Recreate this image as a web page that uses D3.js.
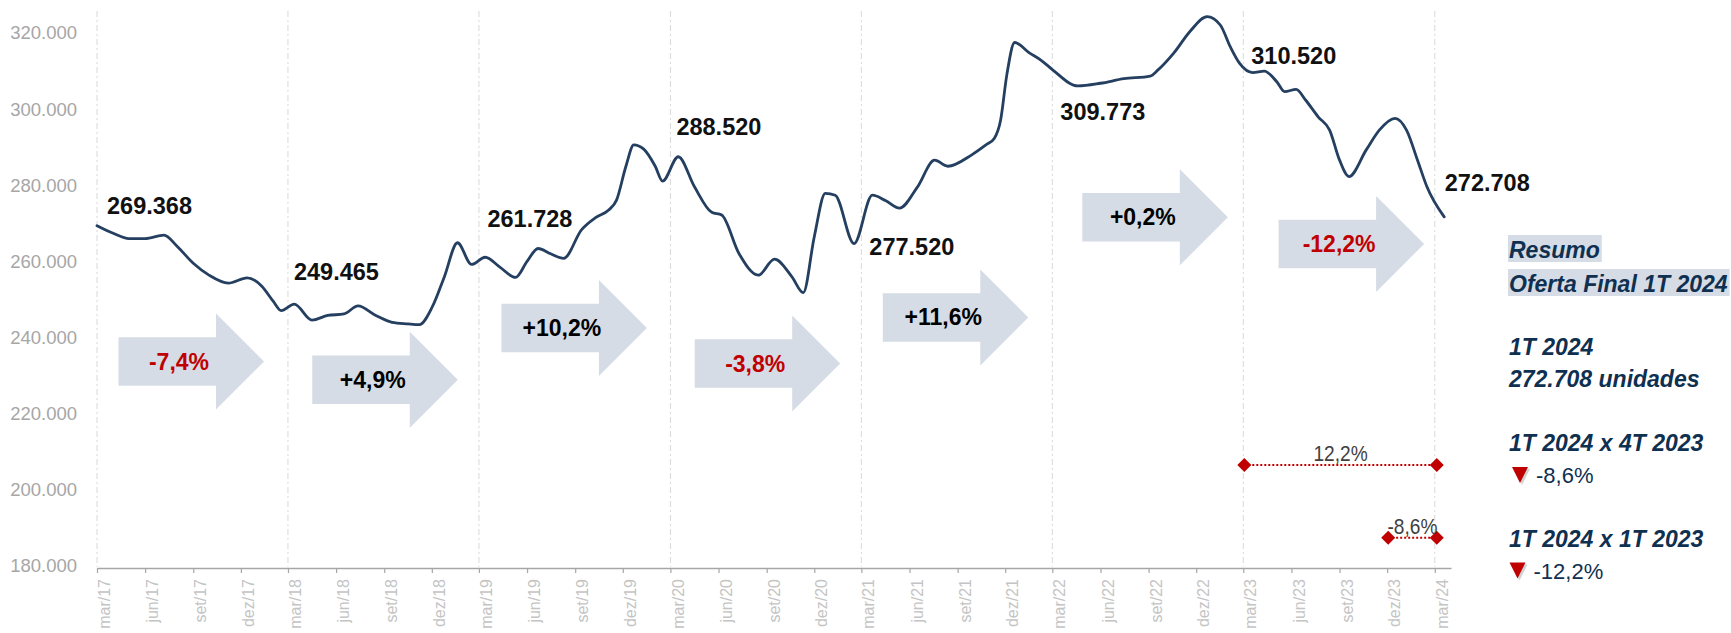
<!DOCTYPE html>
<html><head><meta charset="utf-8">
<script src="https://cdn.jsdelivr.net/npm/d3@7"></script>
<style>
html,body{margin:0;padding:0;background:#fff;}
svg{display:block;font-family:"Liberation Sans",Arial,sans-serif;}
</style></head><body>
<svg id="chart" width="1731" height="633"></svg>
<script>
// ---------- data ----------
const dates = ["2017-03-01","2017-04-01","2017-05-01","2017-06-01","2017-07-07","2017-08-01","2017-09-01","2017-10-01","2017-11-07","2017-12-13",
"2018-01-10","2018-02-01","2018-02-16","2018-03-13","2018-04-16","2018-05-16","2018-06-16","2018-07-13","2018-08-16","2018-09-16","2018-10-16","2018-11-07","2018-12-02","2018-12-25",
"2019-01-19","2019-02-15","2019-03-13","2019-04-10","2019-05-10","2019-06-01","2019-06-22","2019-07-16","2019-08-10","2019-09-13","2019-10-10","2019-11-04","2019-11-19","2019-12-07","2019-12-22",
"2020-01-10","2020-02-01","2020-02-15","2020-03-16","2020-04-16","2020-05-19","2020-06-07","2020-07-10","2020-08-16","2020-09-16","2020-10-19","2020-11-10","2020-12-01","2020-12-22",
"2021-01-10","2021-02-15","2021-03-22","2021-04-16","2021-05-13","2021-06-16","2021-07-19","2021-08-13","2021-09-28","2021-10-25","2021-11-10","2021-11-22","2021-12-04","2021-12-19",
"2022-01-16","2022-02-07","2022-03-01","2022-04-19","2022-06-01","2022-07-16","2022-09-04","2022-09-19","2022-10-19","2022-11-19","2022-12-22",
"2023-01-16","2023-02-04","2023-02-22","2023-03-19","2023-04-10","2023-05-04","2023-05-19","2023-06-10","2023-06-28","2023-07-22","2023-08-13","2023-09-01","2023-09-19","2023-10-22","2023-11-16","2023-12-16",
"2024-01-07","2024-01-28","2024-02-15","2024-03-19"];
const values = [269400,267400,266000,266000,266900,264000,259500,256400,254300,255700,
253500,249500,247100,248800,244600,245800,246200,248300,245800,244000,243600,243400,248100,256000,
264900,259200,261100,258500,255800,260000,263400,262000,260800,268300,271500,273500,276100,285000,290600,
289500,285000,281100,287500,279600,272900,272200,262100,256400,260600,256000,251800,266500,277900,
277400,264700,277400,276000,274000,279500,286600,285000,288000,290600,292300,297000,309000,317500,
314800,312900,310400,306100,306800,308000,308700,310300,314700,320400,324300,
322100,316400,312000,309600,310000,307200,304600,305200,302400,298000,294500,286600,282300,289300,294500,297600,
294500,286600,279600,271700];

const yTicks = [180000,200000,220000,240000,260000,280000,300000,320000];
const monthNames = ["jan","fev","mar","abr","mai","jun","jul","ago","set","out","nov","dez"];
const quarterDates = ["2017-03-01","2017-06-01","2017-09-01","2017-12-01","2018-03-01","2018-06-01","2018-09-01","2018-12-01",
"2019-03-01","2019-06-01","2019-09-01","2019-12-01","2020-03-01","2020-06-01","2020-09-01","2020-12-01",
"2021-03-01","2021-06-01","2021-09-01","2021-12-01","2022-03-01","2022-06-01","2022-09-01","2022-12-01",
"2023-03-01","2023-06-01","2023-09-01","2023-12-01","2024-03-01"];
const yearStarts = ["2017-03-01","2018-03-01","2019-03-01","2020-03-01","2021-03-01","2022-03-01","2023-03-01","2024-03-01"];
const quarterValues = [269368,249465,261728,288520,277520,309773,310520,272708];
const growthLabels = ["-7,4%","+4,9%","+10,2%","-3,8%","+11,6%","+0,2%","-12,2%"];
const growthValues = [-7.4,4.9,10.2,-3.8,11.6,0.2,-12.2];
const compareStart = ["2023-03-01","2023-12-01"];
const compareEnd = ["2024-03-01","2024-03-01"];
const compareLevel = [206500,187400];
const compareLabels = ["12,2%","-8,6%"];
const summaryTitle = ["Resumo","Oferta Final 1T 2024"];
const summaryLines = ["1T 2024","272.708 unidades","1T 2024 x 4T 2023","1T 2024 x 1T 2023"];
const summaryChanges = ["-8,6%","-12,2%"];

// ---------- layout (positions, not data) ----------
const labelOffsets = [[10,-20],[6,-30],[8.5,-36],[6,-26],[8,52],[8,40],[8,-13],[10,-30]];
const arrowXOffset = [21.5,24.3,22.5,24.3,21.4,30,35.3];
const arrowYLevel = [233700,228900,242500,233200,245300,271600,264600];

// ---------- scales ----------
const parse = d3.timeParse("%Y-%m-%d");
const svg = d3.select("#chart");
const x = d3.scaleTime().domain([parse("2017-03-01"), parse("2024-04-01")]).range([97, 1451]);
const y = d3.scaleLinear().domain([180000, 320000]).range([566, 33]);
const loc = d3.formatLocale({decimal:",", thousands:".", grouping:[3], currency:["R$",""]});
const fmt = loc.format(",d");

// gridlines
svg.append("g").selectAll("line").data(yearStarts).join("line")
  .attr("x1", d => x(parse(d))).attr("x2", d => x(parse(d)))
  .attr("y1", 11).attr("y2", 567)
  .attr("stroke", "#d9d9d9").attr("stroke-width", 1).attr("stroke-dasharray", "6,3,2,3");

// y labels
svg.append("g").selectAll("text").data(yTicks).join("text")
  .attr("x", 77).attr("y", d => y(d)).attr("dy", "0.35em")
  .attr("text-anchor", "end").attr("font-size", 18.5).attr("fill", "#a6a6a6")
  .text(d => fmt(d));

// x axis
const xAxis = d3.axisBottom(x)
  .tickValues(quarterDates.map(parse))
  .tickSize(5).tickSizeOuter(0)
  .tickFormat(d => monthNames[d.getMonth()] + "/" + String(d.getFullYear()).slice(2));
const gx = svg.append("g").attr("transform", "translate(0,568)").call(xAxis);
gx.select(".domain").attr("stroke", "#a6a6a6").attr("stroke-width", 1.5);
gx.selectAll(".tick line").attr("stroke", "#a6a6a6").attr("stroke-width", 1.2);
gx.selectAll(".tick text")
  .attr("transform", "rotate(-90)")
  .attr("text-anchor", "end")
  .attr("x", -11).attr("y", 7).attr("dy", "0.35em")
  .attr("font-size", 16).attr("fill", "#c4c4c4")
  .attr("font-family", "Liberation Sans, Arial, sans-serif");

// arrows
const bodyW = 97.5, bodyH = 48.5, headL = 48, headH = 96;
const arrows = svg.append("g");
growthLabels.forEach((lab, i) => {
  const x0 = x(parse(yearStarts[i])) + arrowXOffset[i];
  const cy = y(arrowYLevel[i]);
  const pts = [
    [x0, cy - bodyH/2], [x0 + bodyW, cy - bodyH/2], [x0 + bodyW, cy - headH/2],
    [x0 + bodyW + headL, cy], [x0 + bodyW, cy + headH/2], [x0 + bodyW, cy + bodyH/2], [x0, cy + bodyH/2]
  ];
  arrows.append("path").attr("d", d3.line()(pts) + "Z").attr("fill", "#d6dce5");
  arrows.append("text").attr("x", x0 + 60.5).attr("y", cy).attr("dy", "0.35em")
    .attr("text-anchor", "middle").attr("font-size", 23).attr("font-weight", "bold")
    .attr("fill", growthValues[i] < 0 ? "#c00000" : "#000")
    .text(lab);
});

// line
svg.append("path")
  .datum(dates.map((d, i) => [parse(d), values[i]]))
  .attr("fill", "none").attr("stroke", "#243f60").attr("stroke-width", 2.8)
  .attr("stroke-linejoin", "round").attr("stroke-linecap", "round")
  .attr("d", d3.line().x(d => x(d[0])).y(d => y(d[1])).curve(d3.curveMonotoneX));

// value labels
svg.append("g").selectAll("text").data(quarterValues).join("text")
  .attr("x", (d, i) => x(parse(yearStarts[i])) + labelOffsets[i][0])
  .attr("y", (d, i) => y(d) + labelOffsets[i][1]).attr("dy", "0.35em")
  .attr("font-size", 23.5).attr("font-weight", "bold").attr("fill", "#111")
  .text(d => fmt(d));

// comparison dotted lines
const cmp = svg.append("g");
compareLabels.forEach((lab, i) => {
  const xa = x(parse(compareStart[i])) + 1, xb = x(parse(compareEnd[i])) + 2, yy = y(compareLevel[i]);
  cmp.append("line").attr("x1", xa).attr("x2", xb).attr("y1", yy).attr("y2", yy)
    .attr("stroke", "#c00000").attr("stroke-width", 2).attr("stroke-dasharray", "2,2");
  [xa, xb].forEach(xx => cmp.append("path")
    .attr("d", `M${xx},${yy-7}L${xx+7},${yy}L${xx},${yy+7}L${xx-7},${yy}Z`).attr("fill", "#c00000"));
  const t = cmp.append("text").attr("x", (xa + xb) / 2).attr("y", yy - 4)
    .attr("text-anchor", "middle").attr("font-size", 22.5).attr("fill", "#404040").text(lab);
  const L = t.node().getComputedTextLength();
  t.attr("textLength", L * 0.85).attr("lengthAdjust", "spacingAndGlyphs");
});

// summary panel
const navy = "#0f3050";
const panel = svg.append("g").attr("font-style", "italic").attr("font-weight", "bold")
  .attr("font-size", 23).attr("fill", navy);
const titleBase = [257.5, 291.5];
summaryTitle.forEach((t, i) => {
  const bg = panel.append("rect").attr("fill", "#d6dce5");
  const tx = panel.append("text").attr("x", 1509).attr("y", titleBase[i]).text(t);
  const w = tx.node().getComputedTextLength();
  bg.attr("x", 1508).attr("y", titleBase[i] - 22.5).attr("width", w + 3).attr("height", 27);
});
const lineBase = [355, 387, 451, 547];
summaryLines.forEach((t, i) => panel.append("text").attr("x", 1509).attr("y", lineBase[i]).text(t));
const chgBase = [483, 578.5];
const triX = [1512, 1509.5];
summaryChanges.forEach((t, i) => {
  const tx0 = triX[i], b = chgBase[i];
  svg.append("path").attr("d", `M${tx0+2},${b-14}L${tx0+18},${b-14}L${tx0+10},${b+2}Z`)
    .attr("fill", "#bfbfbf").attr("opacity", 0.7);
  svg.append("path").attr("d", `M${tx0},${b-16}L${tx0+16},${b-16}L${tx0+8},${b}Z`)
    .attr("fill", "#c00000");
  svg.append("text").attr("x", tx0 + 24).attr("y", b).attr("font-size", 22)
    .attr("fill", navy).text(t);
});
</script>
</body></html>
